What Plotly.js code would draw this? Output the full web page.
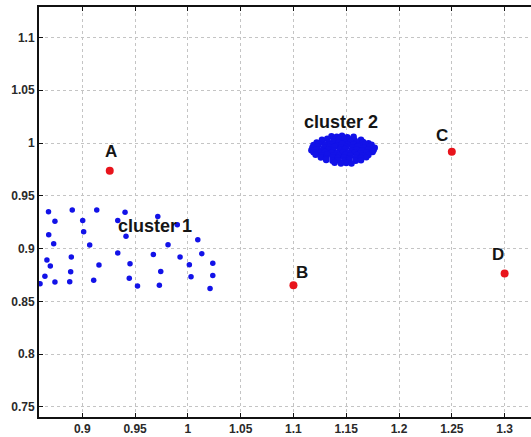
<!DOCTYPE html>
<html>
<head>
<meta charset="utf-8">
<script src="https://cdn.plot.ly/plotly-3.0.1.min.js"></script>
<style>html,body{margin:0;padding:0;background:#fff;}#chart{width:531px;height:437px;}</style>
</head>
<body>
<div id="chart"></div>
<script>
// Cluster 1 (sparse blue points)
var cluster1X = [0.868,0.8905,0.9137,0.9405,0.8741,0.9004,0.9336,0.9013,0.9414,0.8682,
  0.8729,0.907,0.9336,0.8665,0.8697,0.8896,0.9158,0.9452,0.8646,0.889,
  0.9445,0.8741,0.8881,0.9108,0.8600,0.9523,0.9715,0.99,1.0094,0.9812,
  0.9673,0.9926,1.0132,1.0014,1.0236,0.9743,1.003,1.0236,0.973,1.021];
var cluster1Y = [0.935,0.9366,0.9366,0.9343,0.9258,0.9267,0.9267,0.916,0.9116,0.9132,
  0.9046,0.9034,0.8958,0.8892,0.8835,0.892,0.8845,0.8857,0.8737,0.8781,
  0.8718,0.8684,0.8687,0.8699,0.8668,0.8646,0.9305,0.9226,0.9084,0.9037,
  0.8945,0.892,0.8952,0.8848,0.886,0.8784,0.8734,0.8746,0.8652,0.8623];

// Cluster 2 (dense blue points)
var cluster2X = [1.136,1.141,1.146,1.151,1.157,
  1.127,1.132,1.138,1.143,1.148,1.153,1.158,1.164,
  1.122,1.127,1.133,1.138,1.143,1.149,1.154,1.160,1.166,1.171,
  1.119,1.124,1.130,1.135,1.141,1.146,1.151,1.157,1.162,1.168,1.174,
  1.118,1.123,1.129,1.134,1.139,1.145,1.150,1.156,1.161,1.167,1.172,1.177,
  1.117,1.122,1.127,1.133,1.138,1.144,1.149,1.155,1.160,1.165,1.171,1.176,
  1.119,1.125,1.130,1.136,1.141,1.147,1.152,1.158,1.163,1.169,1.175,
  1.121,1.127,1.132,1.138,1.143,1.149,1.154,1.160,1.165,1.171,
  1.126,1.131,1.137,1.142,1.148,1.153,1.159,1.164,1.169,
  1.131,1.137,1.142,1.148,1.153,1.159,1.164,
  1.139,1.145,1.150,1.155];
var cluster2Y = [1.0065,1.0058,1.0068,1.0055,1.0060,
  1.0030,1.0040,1.0028,1.0038,1.0032,1.0036,1.0025,1.0030,
  1.0005,1.0012,1.0003,1.0015,1.0008,1.0002,1.0013,1.0006,1.0010,0.9998,
  0.9982,0.9990,0.9980,0.9988,0.9978,0.9992,0.9983,0.9987,0.9979,0.9990,0.9984,
  0.9958,0.9965,0.9955,0.9962,0.9968,0.9954,0.9963,0.9957,0.9966,0.9956,0.9961,0.9955,
  0.9932,0.9940,0.9930,0.9938,0.9928,0.9936,0.9942,0.9931,0.9937,0.9929,0.9939,0.9933,
  0.9912,0.9905,0.9914,0.9908,0.9903,0.9913,0.9906,0.9911,0.9902,0.9909,0.9914,
  0.9888,0.9881,0.9890,0.9884,0.9879,0.9889,0.9882,0.9887,0.9880,0.9886,
  0.9862,0.9856,0.9865,0.9858,0.9863,0.9855,0.9861,0.9857,0.9864,
  0.9838,0.9831,0.9836,0.9830,0.9839,0.9833,0.9836,
  0.9812,0.9806,0.9810,0.9805];

// Outlier points
var outlierNames = ["A","B","C","D"];
var outlierX = [0.926,1.100,1.250,1.300];
var outlierY = [0.9738,0.8652,0.9918,0.8765];

// Text labels
var labelText = ["A","B","C","D","cluster 1","cluster 2"];
var labelSize = [17,17,17,17,18,18];
var labelX = [0.9272,1.108,1.2407,1.2934,0.969,1.145];
var labelY = [0.992,0.8775,1.0069,0.8942,0.9217,1.0195];

// Ticks
var xTicks = [0.9,0.95,1,1.05,1.1,1.15,1.2,1.25,1.3];
var xTickText = ["0.9","0.95","1","1.05","1.1","1.15","1.2","1.25","1.3"];
var yTicks = [0.75,0.8,0.85,0.9,0.95,1,1.05,1.1];
var yTickText = ["0.75","0.8","0.85","0.9","0.95","1","1.05","1.1"];

var blue = "#1212e8";
var traces = [
  {x: cluster1X, y: cluster1Y, mode: "markers", type: "scatter",
   marker: {color: blue, size: 5.5}, hoverinfo: "none"},
  {x: cluster2X, y: cluster2Y, mode: "markers", type: "scatter",
   marker: {color: blue, size: 6.5}, hoverinfo: "none"},
  {x: outlierX, y: outlierY, text: outlierNames, mode: "markers", type: "scatter",
   marker: {color: "#e8141c", size: 8}, hoverinfo: "none"}
];

var annotations = labelText.map(function(t, i){
  return {x: labelX[i], y: labelY[i], xref: "x", yref: "y", text: t, showarrow: false,
          font: {family: "Liberation Sans, Arial, sans-serif", size: labelSize[i], color: "#151515", weight: 700},
          xanchor: "center", yanchor: "middle"};
});

var tickFont = {family: "Liberation Sans, Arial, sans-serif", size: 12, color: "#2a2a2a", weight: 700};
var layout = {
  width: 531, height: 437,
  margin: {l: 39, r: 0, t: 7, b: 20, pad: 0},
  paper_bgcolor: "#fff", plot_bgcolor: "#fff",
  showlegend: false,
  xaxis: {range: [0.859, 1.325], tickvals: xTicks, ticktext: xTickText,
          showgrid: true, gridcolor: "#c4c4c4", griddash: "dot", gridwidth: 1,
          zeroline: false, showline: true, linecolor: "#111", linewidth: 2,
          mirror: "ticks", ticks: "inside", ticklen: 4, tickcolor: "#111", tickwidth: 1,
          tickfont: tickFont},
  yaxis: {range: [0.7405, 1.1288], tickvals: yTicks, ticktext: yTickText,
          showgrid: true, gridcolor: "#c4c4c4", griddash: "dot", gridwidth: 1,
          zeroline: false, showline: true, linecolor: "#111", linewidth: 2,
          mirror: false, ticks: "inside", ticklen: 4, tickcolor: "#111", tickwidth: 1,
          tickfont: tickFont},
  annotations: annotations
};

Plotly.newPlot("chart", traces, layout, {displayModeBar: false, staticPlot: true});
</script>
</body>
</html>
